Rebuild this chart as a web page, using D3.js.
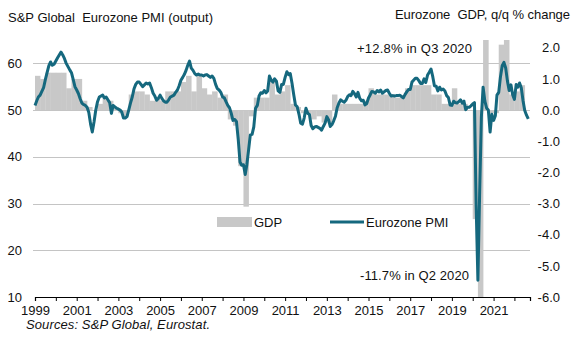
<!DOCTYPE html>
<html>
<head>
<meta charset="utf-8">
<script src="https://cdn.jsdelivr.net/npm/d3@7"></script>
<style>
    body { margin: 0; background: #fff; }
    svg text { font-family: Arial, "Liberation Sans", sans-serif; font-size: 13px; fill: #111; white-space: pre; }
</style>
</head>
<body>
<div id="chart"></div>
<script>
// Eurozone composite PMI (output), monthly from Jan 1999
const startYear = 1999;
const pmi = [
    51.0, 52.0, 52.8, 53.2, 54.0, 54.8, 56.5, 58.0, 59.5, 60.3, 59.6, 59.8,  // 1999
    60.5, 61.2, 61.8, 62.4, 61.8, 61.0, 60.0, 59.3, 58.6, 58.0, 56.5, 55.0,  // 2000
    54.3, 53.5, 52.5, 51.5, 51.2, 51.0, 50.6, 49.5, 47.0, 45.3, 47.5, 50.0,  // 2001
    51.8, 52.8, 53.0, 53.2, 52.6, 52.8, 52.2, 51.6, 49.3, 51.0, 50.7, 50.4,  // 2002
    50.2, 50.0, 49.6, 48.3, 48.3, 48.6, 50.0, 51.5, 52.8, 54.5, 55.5, 56.0,  // 2003
    56.0, 55.5, 55.0, 55.4, 55.8, 55.6, 55.8, 54.8, 53.6, 53.0, 52.1, 52.5,  // 2004
    53.2, 52.5, 52.0, 51.7, 51.7, 52.2, 52.8, 53.0, 53.2, 53.8, 54.3, 55.2,  // 2005
    56.4, 57.0, 57.6, 58.5, 59.6, 60.5, 59.0, 58.5, 57.8, 57.5, 57.7, 57.5,  // 2006
    57.5, 57.3, 57.5, 57.6, 57.3, 57.0, 57.3, 56.8, 55.5, 54.6, 54.3, 53.8,  // 2007
    52.8, 52.6, 51.8, 51.0, 50.5, 49.3, 47.8, 48.0, 47.5, 43.8, 38.9, 38.2,  // 2008
    38.3, 36.2, 38.3, 41.5, 44.7, 44.8, 46.4, 50.4, 51.0, 53.0, 53.7, 53.6,  // 2009
    54.2, 53.7, 54.1, 57.3, 56.4, 56.0, 56.7, 56.2, 54.1, 53.8, 55.5, 55.5,  // 2010
    57.0, 58.2, 57.6, 57.8, 55.8, 53.3, 51.1, 50.7, 49.1, 47.2, 47.0, 48.3,  // 2011
    50.4, 49.3, 49.1, 46.7, 46.0, 46.4, 46.5, 46.3, 46.1, 45.7, 46.5, 47.2,  // 2012
    48.6, 47.9, 46.5, 46.9, 47.7, 48.7, 50.5, 51.5, 52.2, 51.9, 51.7, 52.1,  // 2013
    52.9, 53.3, 53.1, 54.0, 53.5, 52.8, 53.8, 52.5, 52.0, 52.1, 51.1, 51.4,  // 2014
    52.6, 53.3, 54.0, 53.9, 53.6, 54.2, 53.9, 54.3, 53.6, 53.9, 54.2, 54.3,  // 2015
    53.6, 53.0, 53.1, 53.0, 53.1, 53.1, 53.2, 52.9, 52.6, 53.3, 53.9, 54.4,  // 2016
    54.4, 56.0, 56.4, 56.8, 56.8, 56.3, 55.7, 55.7, 56.7, 55.9, 57.5, 58.1,  // 2017
    58.8, 57.1, 55.2, 55.1, 54.1, 54.9, 54.3, 54.5, 54.1, 53.1, 52.7, 51.1,  // 2018
    51.0, 51.9, 51.6, 51.5, 51.8, 52.2, 51.5, 51.9, 50.1, 50.6, 50.6, 50.9,  // 2019
    51.3, 51.6, 29.7, 13.6, 31.9, 48.5, 54.9, 51.9, 50.4, 50.0, 45.3, 49.1,  // 2020
    47.8, 48.8, 53.2, 53.8, 57.1, 59.5, 60.2, 59.0, 56.2, 54.2, 55.4, 53.3,  // 2021
    52.3, 55.5, 54.9, 55.8, 54.8, 52.0, 49.9, 48.9, 48.1                     // 2022
];

// Eurozone GDP, q/q % change, quarterly from Q1 1999
const gdp = [
    1.1, 1.0, 1.2, 1.2,     // 1999
    1.2, 1.2, 0.7, 1.0,     // 2000
    1.0, 0.3, 0.1, 0.0,     // 2001
    0.2, 0.4, 0.3, 0.1,     // 2002
    -0.1, -0.2, 0.5, 0.6,   // 2003
    0.6, 0.5, 0.3, 0.4,     // 2004
    0.3, 0.6, 0.6, 0.6,     // 2005
    0.9, 1.1, 0.6, 1.1,     // 2006
    0.7, 0.5, 0.6, 0.4,     // 2007
    0.5, -0.3, -0.5, -1.8,  // 2008
    -3.1, -0.2, 0.4, 0.4,   // 2009
    0.4, 1.0, 0.5, 0.6,     // 2010
    0.8, 0.2, 0.1, -0.1,    // 2011
    -0.1, -0.3, -0.2, -0.4, // 2012
    -0.4, 0.5, 0.2, 0.2,    // 2013
    0.2, 0.2, 0.2, 0.3,     // 2014
    0.7, 0.5, 0.5, 0.5,     // 2015
    0.5, 0.4, 0.4, 0.7,     // 2016
    0.8, 0.8, 0.8, 0.8,     // 2017
    0.5, 0.5, 0.2, 0.2,     // 2018
    0.7, 0.2, 0.2, 0.0,     // 2019
    -3.5, -11.7, 12.8, -0.1,// 2020
    -0.1, 2.1, 2.3, 0.5,    // 2021
    0.6, 0.8                // 2022
];

const leftTicks = [10, 20, 30, 40, 50, 60];
const gridTicks = [20, 30, 40, 50, 60];
const rightTicks = [-6, -5, -4, -3, -2, -1, 0, 1, 2];
const yearLabels = [1999, 2001, 2003, 2005, 2007, 2009, 2011, 2013, 2015, 2017, 2019, 2021];

const width = 574, height = 351;
const margin = {top: 40, right: 44, bottom: 54, left: 35};
const w = width - margin.left - margin.right;
const h = height - margin.top - margin.bottom;

const pmiColor = '#15687e';
const gdpColor = '#c8c8c8';
const gridColor = '#c4c4c4';

const svg = d3.select('#chart').append('svg')
    .attr('width', width)
    .attr('height', height);

const g = svg.append('g')
    .attr('transform', `translate(${margin.left},${margin.top})`);

// Scales
const x = d3.scaleTime()
    .domain([new Date(startYear, 0, 1), new Date(2022, 9, 1)])
    .range([0, w]);

const yL = d3.scaleLinear().domain([10, 65]).range([h, 0]);
const yR = d3.scaleLinear().domain([-6, 2.25]).range([h, 0]);

// Gridlines
g.append('g')
    .selectAll('line')
    .data(gridTicks)
    .enter().append('line')
    .attr('x1', -2)
    .attr('x2', w)
    .attr('y1', d => Math.round(yL(d)) + 0.5)
    .attr('y2', d => Math.round(yL(d)) + 0.5)
    .attr('stroke', gridColor)
    .attr('stroke-width', 1);

// Clip for the bars that run off the chart
svg.append('clipPath')
    .attr('id', 'plot-clip')
    .append('rect')
    .attr('width', w)
    .attr('height', h);

const gdpData = gdp.map((v, i) => {
    const start = new Date(startYear + Math.floor(i / 4), (i % 4) * 3, 1);
    const end = d3.timeMonth.offset(start, 3);
    return {start, end, value: v};
});

g.append('g')
    .attr('clip-path', 'url(#plot-clip)')
    .selectAll('.bar')
    .data(gdpData)
    .enter().append('rect')
    .attr('class', 'bar')
    .attr('x', d => x(d.start))
    .attr('width', d => x(d.end) - x(d.start) + 0.3)
    .attr('y', d => yR(Math.max(0, d.value)))
    .attr('height', d => Math.abs(yR(d.value) - yR(0)))
    .attr('fill', gdpColor);

// PMI line
const pmiData = pmi.map((v, i) => ({
    date: new Date(startYear + Math.floor(i / 12), i % 12, 1),
    value: v
}));

const line = d3.line()
    .x(d => x(d.date))
    .y(d => yL(d.value));

g.append('path')
    .datum(pmiData)
    .attr('d', line)
    .attr('fill', 'none')
    .attr('stroke', pmiColor)
    .attr('stroke-width', 3)
    .attr('stroke-linejoin', 'round');

// Left axis labels
g.append('g')
    .call(d3.axisLeft(yL).tickValues(leftTicks).tickSize(0).tickPadding(13))
    .call(a => a.select('.domain').remove())
    .selectAll('text')
    .attr('fill', '#111')
    .style('font-size', '13px');

// Right axis labels
g.append('g')
    .attr('transform', `translate(${w},0)`)
    .call(d3.axisRight(yR).tickValues(rightTicks).tickSize(0).tickPadding(30)
        .tickFormat(d => d.toFixed(1)))
    .call(a => a.select('.domain').remove())
    .selectAll('text')
    .attr('text-anchor', 'end')
    .attr('fill', '#111')
    .style('font-size', '13px');

// Bottom axis
const xAxis = g.append('g')
    .attr('transform', `translate(0,${h})`)
    .call(d3.axisBottom(x)
        .ticks(d3.timeYear.every(1))
        .tickSize(4)
        .tickPadding(5)
        .tickFormat(d => yearLabels.includes(d.getFullYear()) ? d.getFullYear() : ''));

xAxis.select('.domain').attr('stroke', '#000').attr('stroke-width', 1.2);
xAxis.selectAll('.tick line').attr('stroke', '#000');
xAxis.selectAll('text').attr('fill', '#111').style('font-size', '13px');

// Titles
svg.append('text')
    .attr('x', 8)
    .attr('y', 22)
    .attr('textLength', 205)
    .attr('lengthAdjust', 'spacing')
    .text('S&P Global  Eurozone PMI (output)');

svg.append('text')
    .attr('x', 395)
    .attr('y', 19)
    .attr('textLength', 175)
    .attr('lengthAdjust', 'spacing')
    .text('Eurozone  GDP, q/q % change');

// Annotations
svg.append('text')
    .attr('x', 357)
    .attr('y', 53)
    .attr('textLength', 115)
    .attr('lengthAdjust', 'spacing')
    .text('+12.8% in Q3 2020');

svg.append('text')
    .attr('x', 360)
    .attr('y', 280)
    .attr('textLength', 109)
    .attr('lengthAdjust', 'spacing')
    .text('-11.7% in Q2 2020');

// Legend
const legend = svg.append('g');

legend.append('rect')
    .attr('x', 217)
    .attr('y', 217)
    .attr('width', 35)
    .attr('height', 10)
    .attr('fill', gdpColor);

legend.append('text')
    .attr('x', 254)
    .attr('y', 226.5)
    .text('GDP');

legend.append('line')
    .attr('x1', 330)
    .attr('x2', 364)
    .attr('y1', 222)
    .attr('y2', 222)
    .attr('stroke', pmiColor)
    .attr('stroke-width', 3);

legend.append('text')
    .attr('x', 366)
    .attr('y', 226.5)
    .text('Eurozone PMI');

// Source note
svg.append('text')
    .attr('x', 26)
    .attr('y', 328.5)
    .attr('textLength', 184)
    .attr('lengthAdjust', 'spacing')
    .style('font-style', 'italic')
    .text('Sources: S&P Global, Eurostat.');
</script>
</body>
</html>
